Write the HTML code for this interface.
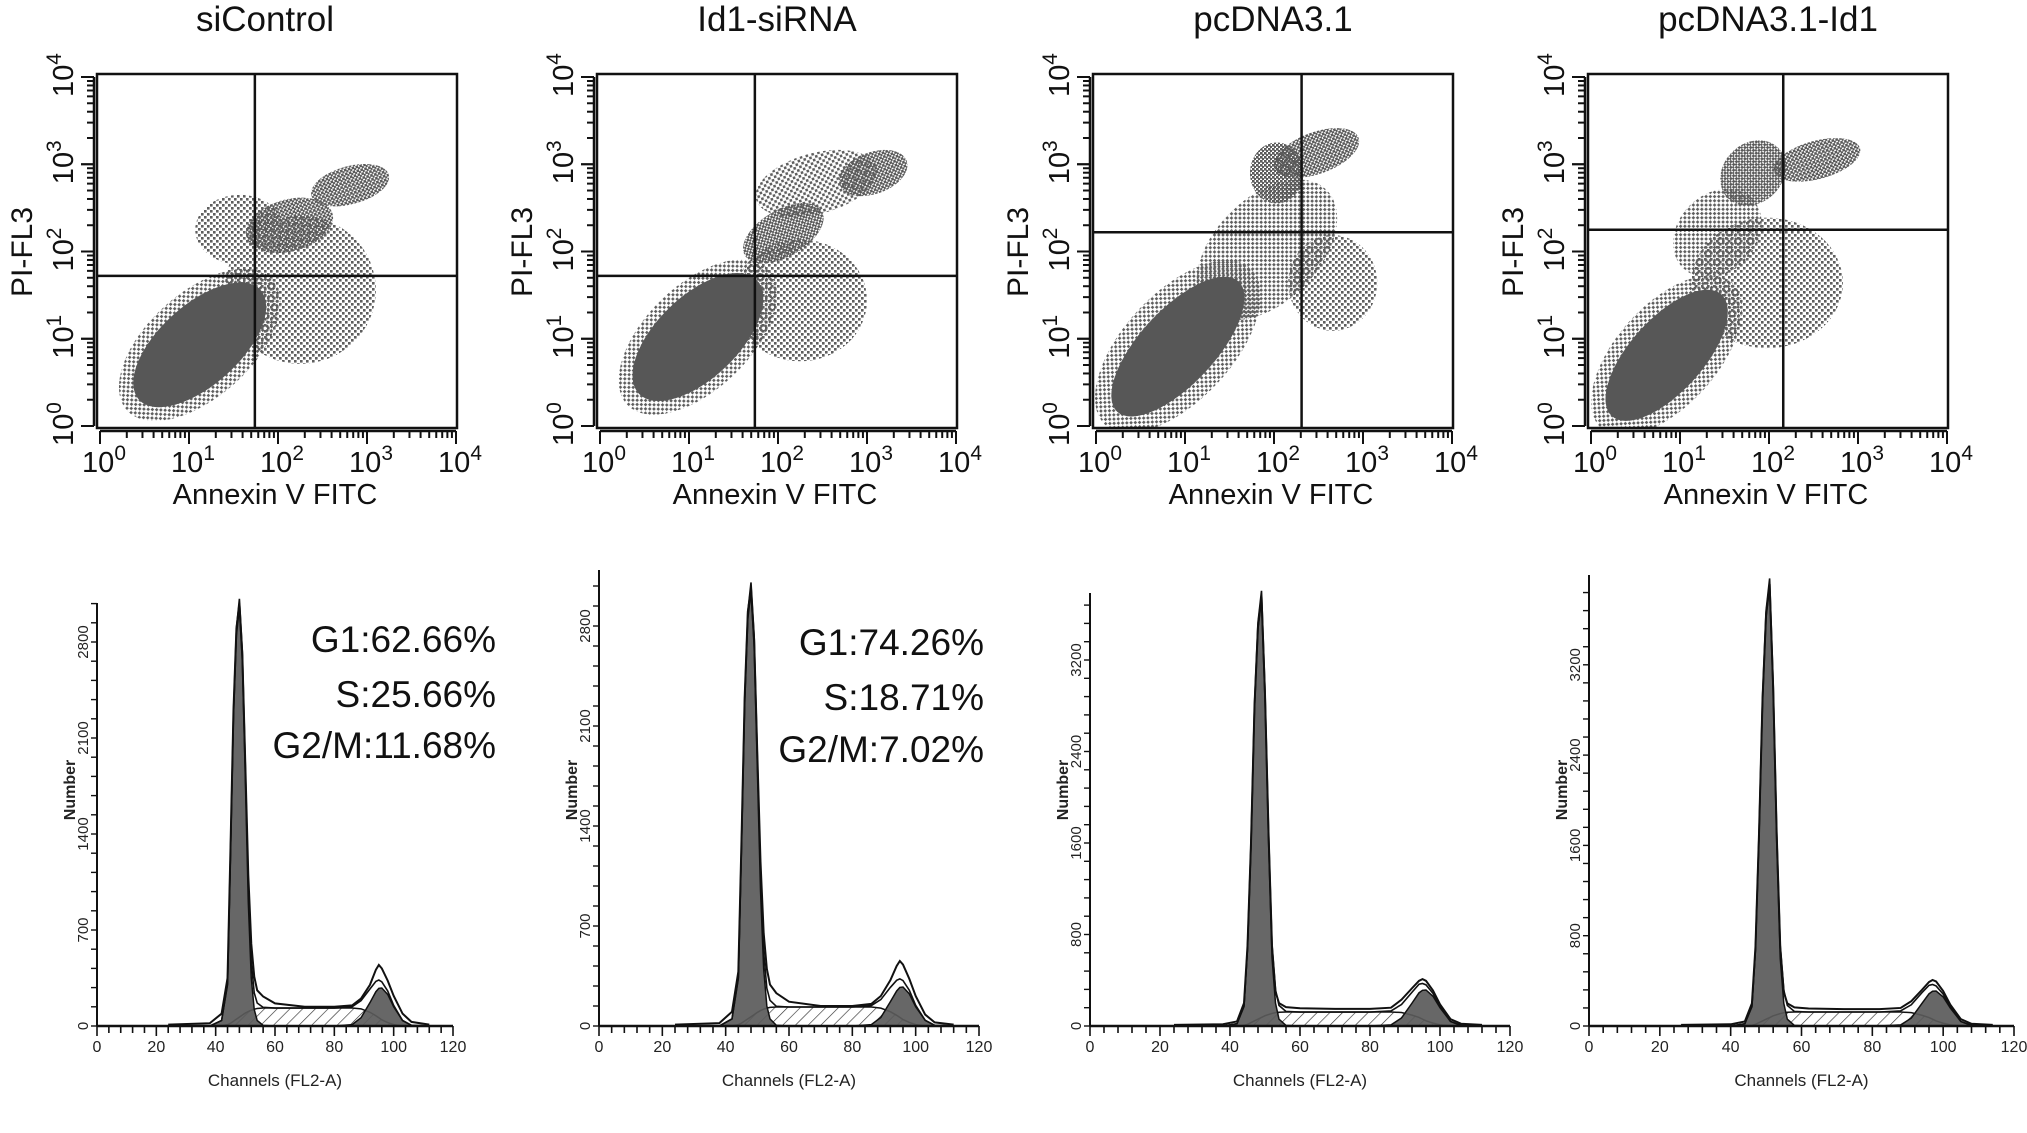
<!DOCTYPE html>
<html><head><meta charset="utf-8"><style>
html,body{margin:0;padding:0;background:#fff;}
svg{display:block;font-family:"Liberation Sans",Arial,sans-serif;}
</style></head><body>
<svg id="fig" width="2027" height="1133" viewBox="0 0 2027 1133" xmlns="http://www.w3.org/2000/svg">
<defs>
<pattern id="dotsSparse" width="6" height="6" patternUnits="userSpaceOnUse"><rect x="0" y="0" width="2.6" height="2.6" fill="#5e5e5e"/><rect x="3" y="3" width="2.6" height="2.6" fill="#5e5e5e"/></pattern>
<pattern id="dotsMed" width="4" height="4" patternUnits="userSpaceOnUse"><rect x="0" y="0" width="2.6" height="2.6" fill="#5a5a5a"/><rect x="2" y="2" width="2.6" height="2.6" fill="#5a5a5a"/></pattern>
<pattern id="hatch" width="9" height="9" patternUnits="userSpaceOnUse" patternTransform="rotate(45)"><rect width="9" height="9" fill="#fff"/><line x1="0" y1="0" x2="0" y2="9" stroke="#333" stroke-width="1.3"/></pattern>
</defs>
<g id="root"></g>
</svg>
<script>
// ---------- scatter data (log10 units) ----------
const titles = ["siControl", "Id1-siRNA", "pcDNA3.1", "pcDNA3.1-Id1"];
const gateX = [1.74, 1.74, 2.31, 2.16];
const gateY = [1.72, 1.72, 2.22, 2.25];
// clusters: [cx, cy, rx, ry, angleDeg, density]
const clusters1 = [[1.12,0.93,1.1,0.6,42,"s"],[2.25,1.56,0.85,0.85,0,"s"],[1.57,2.25,0.5,0.4,0,"s"],[2.13,2.3,0.5,0.3,15,"m"],[2.81,2.76,0.45,0.22,15,"m"],[1.12,0.93,0.92,0.46,42,"c"]];
const clusters2 = [[1.10,1.02,1.1,0.6,44,"s"],[2.25,1.44,0.75,0.7,0,"s"],[2.43,2.78,0.7,0.35,15,"s"],[2.06,2.21,0.5,0.27,30,"m"],[3.07,2.9,0.4,0.24,20,"m"],[1.10,1.02,0.92,0.47,44,"c"]];
const clusters3 = [[0.92,0.91,1.2,0.62,47,"s"],[1.92,2.02,0.95,0.6,45,"s"],[2.66,1.64,0.5,0.55,0,"s"],[2.48,3.13,0.5,0.24,20,"m"],[2.03,2.9,0.3,0.35,0,"m"],[0.92,0.91,1.0,0.43,47,"c"]];
const clusters4 = [[0.85,0.81,1.1,0.58,48,"s"],[1.98,1.64,0.85,0.75,0,"s"],[1.42,2.21,0.55,0.45,45,"s"],[1.82,2.9,0.4,0.34,45,"m"],[2.54,3.05,0.5,0.22,15,"m"],[0.85,0.81,0.92,0.42,48,"c"]];
const allClusters = [clusters1, clusters2, clusters3, clusters4];
const decadeLabels = ["0","1","2","3","4"];

// ---------- histogram data ----------
const chans = [24,38,42,44,45,46,47,48,49,50,51,52,53,54,56,60,70,80,86,89,92,94,95,96,98,100,103,106,112];
const chans4 = [26,40,44,46,47,48,49,50,51,52,53,54,55,56,58,62,72,82,88,91,94,96,97,98,100,102,105,108,114];
const env1 = [10,20,90,350,1300,2300,2900,3080,2700,1900,1100,600,360,260,215,165,140,140,150,200,300,410,445,420,330,220,90,30,10];
const g1_1 = [0,0,40,300,1250,2250,2850,3050,2650,1800,900,350,120,40,5,0,0,0,0,0,0,0,0,0,0,0,0,0,0];
const s_1 = [0,0,0,10,20,35,50,65,80,95,105,115,122,128,131,131,131,131,131,125,100,75,60,45,25,10,0,0,0];
const g2_1 = [0,0,0,0,0,0,0,0,0,0,0,0,0,0,0,0,0,0,10,60,170,250,275,277,230,140,40,5,0];
const env2 = [10,20,100,380,1300,2300,2900,3060,2700,1900,1150,650,400,290,230,170,140,140,155,210,320,420,455,430,330,210,80,25,10];
const g1_2 = [0,0,50,330,1250,2250,2850,3040,2650,1800,950,400,140,50,5,0,0,0,0,0,0,0,0,0,0,0,0,0,0];
const s_2 = [0,0,0,10,20,35,50,65,80,95,108,118,125,130,133,133,133,133,133,125,100,75,60,45,25,10,0,0,0];
const g2_2 = [0,0,0,0,0,0,0,0,0,0,0,0,0,0,0,0,0,0,10,60,170,245,270,273,225,135,40,5,0];
const env3 = [10,15,40,200,700,1600,2800,3500,3760,2900,1700,700,300,200,165,155,150,150,160,230,330,395,410,395,310,190,60,20,10];
const g1_3 = [0,0,20,170,670,1570,2770,3470,3730,2850,1620,600,200,60,5,0,0,0,0,0,0,0,0,0,0,0,0,0,0];
const s_3 = [0,0,0,5,15,30,45,60,75,90,100,110,117,120,122,122,122,122,122,118,95,75,60,45,25,10,0,0,0];
const g2_3 = [0,0,0,0,0,0,0,0,0,0,0,0,0,0,0,0,0,0,10,70,200,290,312,315,260,160,40,5,0];
const env4 = [10,15,40,200,700,1700,2900,3650,3915,3000,1700,700,300,200,165,155,150,150,160,220,320,390,408,395,310,190,60,20,10];
const g1_4 = [0,0,20,170,670,1670,2870,3620,3890,2950,1620,600,200,60,5,0,0,0,0,0,0,0,0,0,0,0,0,0,0];
const s_4 = [0,0,0,5,15,30,45,60,75,90,100,110,118,122,124,124,124,124,124,118,95,75,60,45,25,10,0,0,0];
const g2_4 = [0,0,0,0,0,0,0,0,0,0,0,0,0,0,0,0,0,0,10,70,200,285,308,310,258,160,40,5,0];
const yTicksA = [0,700,1400,2100,2800];
const yTicksB = [0,800,1600,2400,3200];
const xTicksH = [0,20,40,60,80,100,120];
const phaseG1 = ["G1:62.66%", "G1:74.26%"];
const phaseS = ["S:25.66%", "S:18.71%"];
const phaseG2 = ["G2/M:11.68%", "G2/M:7.02%"];

const NS = "http://www.w3.org/2000/svg";
const root = document.getElementById("root");
function mk(tag, attrs, parent, txt){
  const e = document.createElementNS(NS, tag);
  for (const k in attrs) e.setAttribute(k, attrs[k]);
  if (txt !== undefined) e.textContent = txt;
  (parent || root).appendChild(e);
  return e;
}
function pow10Label(parent, x, y, exp, size, anchor, rot){
  const t = mk("text", {x:x, y:y, "font-size":size, "text-anchor":anchor||"middle", fill:"#111"}, parent);
  if (rot) t.setAttribute("transform", rot);
  t.appendChild(document.createTextNode("10"));
  const sp = document.createElementNS(NS, "tspan");
  sp.setAttribute("font-size", size*0.72);
  sp.setAttribute("dy", -size*0.42);
  sp.textContent = exp;
  t.appendChild(sp);
  return t;
}

// ---------- scatter panels ----------
const boxLefts = [97, 597, 1093, 1588];
const boxTop = 74, boxBot = 428;
for (let p = 0; p < 4; p++){
  const L = boxLefts[p];
  const sx = v => L + 3 + v * 89;
  const sy = v => 426 - v * 87.25;
  const g = mk("g", {});
  
  
  const tcx = p === 0 ? 265 : L + 180;
  const title = mk("text", {x:tcx, y:31, "font-size":35, "text-anchor":"middle", fill:"#111"}, g, titles[p]);
  
  
  const clipId = "clip" + p;
  const cp = mk("clipPath", {id:clipId}, g);
  mk("rect", {x:L, y:boxTop, width:360, height:boxBot-boxTop}, cp);
  const cg = mk("g", {"clip-path":"url(#"+clipId+")"}, g);
  allClusters[p].forEach(c => {
    const cx = sx(c[0]), cy = sy(c[1]);
    const fill = c[5] === "c" ? "#575757" : (c[5] === "m" ? "url(#dotsMed)" : "url(#dotsSparse)");
    const el = mk("ellipse", {cx:cx, cy:cy, rx:c[2]*89, ry:c[3]*87, fill:fill, transform:"rotate(" + (-c[4]) + " " + cx + " " + cy + ")"}, cg);
    
    
  });
  const box = mk("rect", {x:L, y:boxTop, width:360, height:boxBot-boxTop, fill:"none", stroke:"#111", "stroke-width":2.5}, g);
  
  
  const vg = mk("line", {x1:sx(gateX[p]), x2:sx(gateX[p]), y1:boxTop, y2:boxBot, stroke:"#111", "stroke-width":2.5}, g);
  
  
  const hg = mk("line", {x1:L, x2:L+360, y1:sy(gateY[p]), y2:sy(gateY[p]), stroke:"#111", "stroke-width":2.5}, g);
  
  
  mk("line", {x1:L-3, x2:L-3, y1:sy(4), y2:sy(0), stroke:"#111", "stroke-width":2.5}, g);
  mk("line", {x1:sx(0), x2:sx(4), y1:boxBot+3, y2:boxBot+3, stroke:"#111", "stroke-width":2.5}, g);
  for (let d = 0; d < 4; d++){
    for (let k = 1; k <= 10; k++){
      const v = d + Math.log10(k);
      const len = (k === 1 || k === 10) ? 13 : 7;
      mk("line", {x1:L-3, x2:L-3-len, y1:sy(v), y2:sy(v), stroke:"#111", "stroke-width":2}, g);
      mk("line", {x1:sx(v), x2:sx(v), y1:boxBot+3, y2:boxBot+3+len, stroke:"#111", "stroke-width":2}, g);
    }
  }
  decadeLabels.forEach((lab, i) => {
    const xl = pow10Label(g, sx(i) + 4, 472, lab, 29, "middle");
    
    
    const yy = sy(i);
    const yl = pow10Label(g, 0, 0, lab, 29, "middle", "translate(" + (L-24) + "," + (yy-2) + ") rotate(-90)");
    
    
  });
  const xt = mk("text", {x:L+178, y:504, "font-size":29, "text-anchor":"middle", fill:"#111"}, g, "Annexin V FITC");
  
  
  const yt = mk("text", {x:0, y:0, "font-size":30, "text-anchor":"middle", fill:"#111", transform:"translate(" + (L-65) + ",252) rotate(-90)"}, g, "PI-FL3");
  
  
}

// ---------- histogram panels ----------
const hAxisLeft = [97, 599, 1090, 1589];
const hAxisRight = [453, 979, 1510, 2014];
const hTop = [603, 570, 593, 575];
const hPxPerCount = [96/700, 100/700, 91.5/800, 90.3/800];
const hBase = 1026;
const hChans = [chans, chans, chans, chans4];
const hEnv = [env1, env2, env3, env4];
const hG1 = [g1_1, g1_2, g1_3, g1_4];
const hS = [s_1, s_2, s_3, s_4];
const hG2 = [g2_1, g2_2, g2_3, g2_4];
const hYTicks = [yTicksA, yTicksA, yTicksB, yTicksB];
const hMinorStep = [140, 140, 160, 160];

for (let p = 0; p < 4; p++){
  const A = hAxisLeft[p], R = hAxisRight[p];
  const hx = c => A + c * (R - A) / 120;
  const hy = v => hBase - v * hPxPerCount[p];
  const g = mk("g", {});
  
  
  const ch = hChans[p];
  function areaPath(vals){
    let d = "M" + hx(ch[0]) + "," + hy(0);
    vals.forEach((v, i) => { d += " L" + hx(ch[i]) + "," + hy(v); });
    d += " L" + hx(ch[ch.length-1]) + "," + hy(0) + " Z";
    return d;
  }
  function linePath(vals){
    return vals.map((v, i) => (i ? "L" : "M") + hx(ch[i]) + "," + hy(v)).join(" ");
  }
  const sArea = mk("path", {d:areaPath(hS[p]), fill:"url(#hatch)", stroke:"#111", "stroke-width":1.5}, g);
  
  
  const g1a = mk("path", {d:areaPath(hG1[p]), fill:"#5a5a5a", "fill-opacity":0.92, stroke:"#111", "stroke-width":1.5}, g);
  
  
  const g2a = mk("path", {d:areaPath(hG2[p]), fill:"#5a5a5a", "fill-opacity":0.92, stroke:"#111", "stroke-width":1.5}, g);
  
  
  const fit = hG1[p].map((v, i) => v + hS[p][i] + hG2[p][i]);
  const fl = mk("path", {d:linePath(fit), fill:"none", stroke:"#111", "stroke-width":1.6}, g);
  
  
  const el = mk("path", {d:linePath(hEnv[p]), fill:"none", stroke:"#111", "stroke-width":2}, g);
  
  
  mk("line", {x1:A, x2:A, y1:hTop[p], y2:hBase, stroke:"#111", "stroke-width":2}, g);
  mk("line", {x1:A, x2:R, y1:hBase, y2:hBase, stroke:"#111", "stroke-width":2.5}, g);
  for (let c = 0; c <= 120; c += 4){
    mk("line", {x1:hx(c), x2:hx(c), y1:hBase, y2:hBase + (c % 20 === 0 ? 10 : 7), stroke:"#111", "stroke-width":1.6}, g);
  }
  xTicksH.forEach(c => {
    const t = mk("text", {x:hx(c), y:hBase+26, "font-size":16, "text-anchor":"middle", fill:"#222"}, g, String(c));
    
    
  });
  const maxV = (hBase - hTop[p]) / hPxPerCount[p];
  for (let v = 0; v <= maxV; v += hMinorStep[p]){
    mk("line", {x1:A, x2:A-6, y1:hy(v), y2:hy(v), stroke:"#111", "stroke-width":1.4}, g);
  }
  hYTicks[p].forEach(v => {
    const t = mk("text", {x:0, y:0, "font-size":15, "text-anchor":"middle", fill:"#222", transform:"translate(" + (A-9) + "," + hy(v) + ") rotate(-90)"}, g, String(v));
    
    
  });
  const nl = mk("text", {x:0, y:0, "font-size":16, "font-weight":"bold", "text-anchor":"middle", fill:"#222", transform:"translate(" + (A-22) + ",790) rotate(-90)"}, g, "Number");
  
  
  const xl = mk("text", {x:hx(60), y:1086, "font-size":17, "text-anchor":"middle", fill:"#222"}, g, "Channels  (FL2-A)");
  
  
  if (p < 2){
    const ax = p === 0 ? 496 : 984;
    const ys = p === 0 ? [652, 707, 758] : [655, 710, 762];
    const labs = [phaseG1[p], phaseS[p], phaseG2[p]];
    labs.forEach((s, i) => {
      const t = mk("text", {x:ax, y:ys[i], "font-size":37, "text-anchor":"end", fill:"#111"}, g, s);
      
      
    });
  }
}
</script>
</body></html>
